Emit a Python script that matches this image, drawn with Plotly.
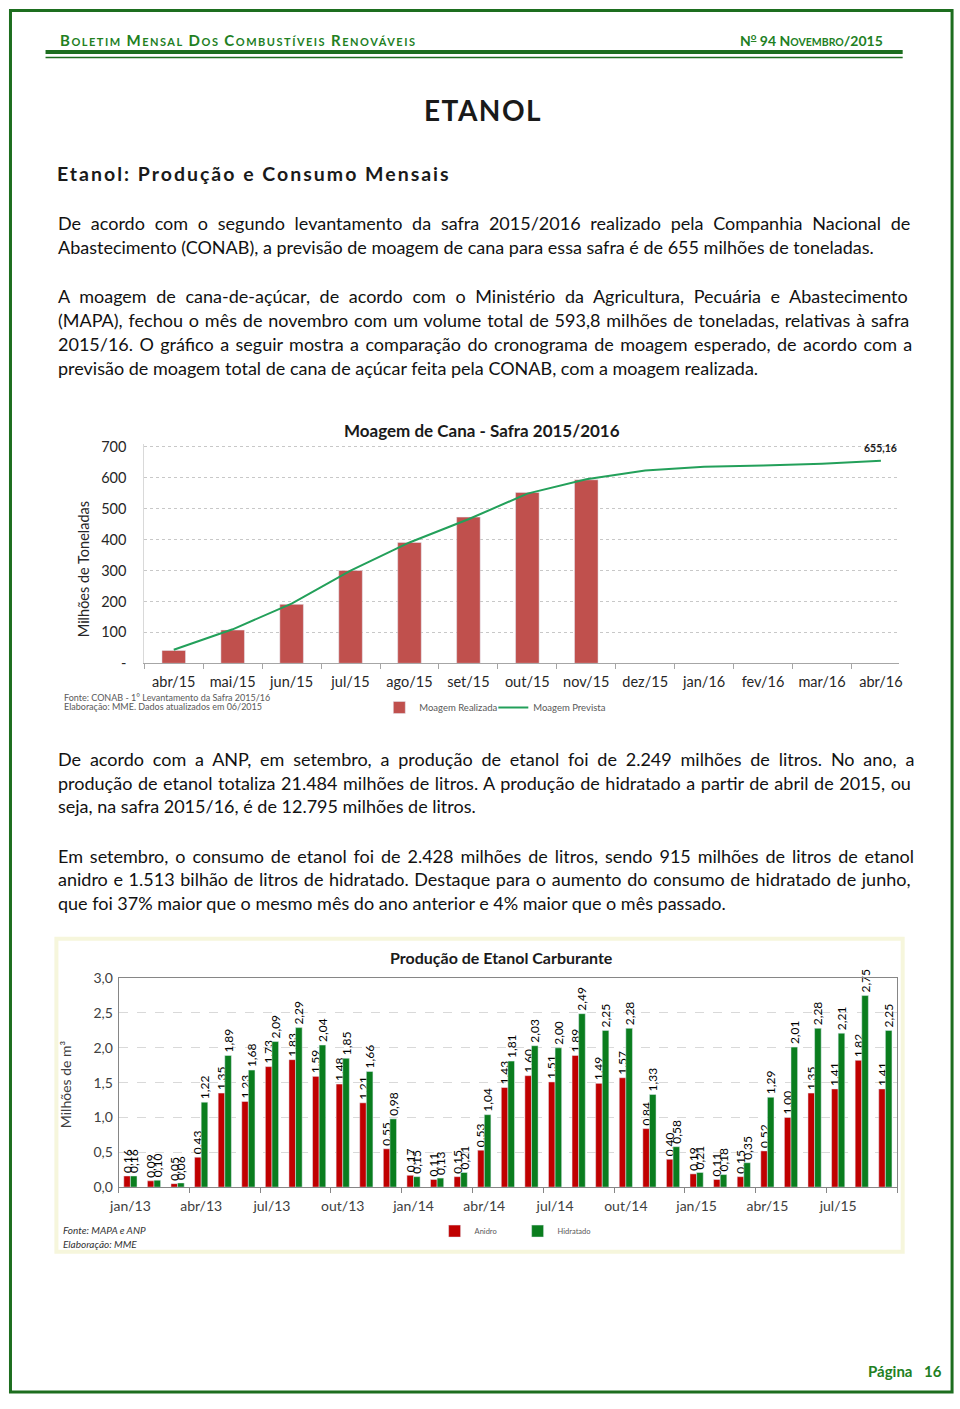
import unicodedata
import plotly.graph_objects as go

W, H = 960, 1409

# ---------------- data: chart 1 (Moagem de Cana) ----------------
moagem_meses = ["abr/15", "mai/15", "jun/15", "jul/15", "ago/15", "set/15", "out/15",
                "nov/15", "dez/15", "jan/16", "fev/16", "mar/16", "abr/16"]
moagem_realizada = [41.6, 107.6, 190.7, 300.4, 391.0, 473.0, 553.0, 593.8]
moagem_prevista = [43.7, 110.0, 193.0, 300.0, 391.0, 466.0, 549.0, 595.6,
                   624.0, 636.0, 640.0, 645.6, 655.16]
y1_ticks = [0, 100, 200, 300, 400, 500, 600, 700]
y1_ticktext = ["-", "100", "200", "300", "400", "500", "600", "700"]

# ---------------- data: chart 2 (Produção de Etanol) ----------------
producao_meses = ["jan/13", "fev/13", "mar/13", "abr/13", "mai/13", "jun/13", "jul/13", "ago/13",
                  "set/13", "out/13", "nov/13", "dez/13", "jan/14", "fev/14", "mar/14", "abr/14",
                  "mai/14", "jun/14", "jul/14", "ago/14", "set/14", "out/14", "nov/14", "dez/14",
                  "jan/15", "fev/15", "mar/15", "abr/15", "mai/15", "jun/15", "jul/15", "ago/15",
                  "set/15"]
anidro = [0.16, 0.09, 0.05, 0.43, 1.35, 1.23, 1.73, 1.83, 1.59, 1.48, 1.21, 0.55,
          0.17, 0.11, 0.15, 0.53, 1.43, 1.60, 1.51, 1.89, 1.49, 1.57, 0.84, 0.40,
          0.19, 0.11, 0.15, 0.52, 1.00, 1.35, 1.41, 1.82, 1.41]
hidratado = [0.16, 0.10, 0.06, 1.22, 1.89, 1.68, 2.09, 2.29, 2.04, 1.85, 1.66, 0.98,
             0.15, 0.13, 0.21, 1.04, 1.81, 2.03, 2.00, 2.49, 2.25, 2.28, 1.33, 0.58,
             0.21, 0.18, 0.35, 1.29, 2.01, 2.28, 2.21, 2.75, 2.25]
y2_ticks = [0, 0.5, 1.0, 1.5, 2.0, 2.5, 3.0]
y2_ticktext = ["0,0", "0,5", "1,0", "1,5", "2,0", "2,5", "3,0"]

# ---------------- text ----------------
paragraphs = [
    (217, [
        "De acordo com o segundo levantamento da safra 2015/2016 realizado pela Companhia Nacional de",
        "Abastecimento (CONAB), a previsão de moagem de cana para essa safra é de 655 milhões de toneladas.",
    ]),
    (291, [
        "A moagem de cana-de-açúcar, de acordo com o Ministério da Agricultura, Pecuária e Abastecimento",
        "(MAPA), fechou o mês de novembro com um volume total de 593,8 milhões de toneladas, relativas à safra",
        "2015/16. O gráfico a seguir mostra a comparação do cronograma de moagem esperado, de acordo com a",
        "previsão de moagem total de cana de açúcar feita pela CONAB, com a moagem realizada.",
    ]),
    (759, [
        "De acordo com a ANP, em setembro, a produção de etanol foi de 2.249 milhões de litros. No ano, a",
        "produção de etanol totaliza 21.484 milhões de litros. A produção de hidratado a partir de abril de 2015, ou",
        "seja, na safra 2015/16, é de 12.795 milhões de litros.",
    ]),
    (857, [
        "Em setembro, o consumo de etanol foi de 2.428 milhões de litros, sendo 915 milhões de litros de etanol",
        "anidro e 1.513 bilhão de litros de hidratado. Destaque para o aumento do consumo de hidratado de junho,",
        "que foi 37% maior que o mesmo mês do ano anterior e 4% maior que o mês passado.",
    ]),
]

# approximate Lato widths (per 1000 em) used only to justify text lines
WT = {" ": 193, "a": 506, "b": 565, "c": 467, "d": 565, "e": 533, "f": 324, "g": 500, "h": 564,
      "i": 240, "j": 240, "k": 516, "l": 240, "m": 840, "n": 564, "o": 565, "p": 557, "q": 565,
      "r": 373, "s": 424, "t": 356, "u": 564, "v": 506, "w": 760, "x": 495, "y": 506, "z": 451,
      "A": 680, "B": 620, "C": 660, "D": 730, "E": 560, "F": 540, "G": 710, "H": 740, "I": 280,
      "J": 380, "K": 640, "L": 500, "M": 880, "N": 740, "O": 780, "P": 590, "Q": 780, "R": 620,
      "S": 520, "T": 580, "U": 710, "V": 680, "W": 1000, "X": 640, "Y": 620, "Z": 600,
      ",": 230, ".": 230, "(": 310, ")": 310, "/": 370, "-": 340, "%": 780, ":": 230}
for d in "0123456789":
    WT[d] = 580

BODY_SIZE = 18
CAL = 1.03
LEFT, RIGHT = 48, 912


def char_w(c):
    if c in WT:
        return WT[c]
    base = unicodedata.normalize("NFD", c)[0]
    return WT.get(base, 550)


def justified(line):
    nsp = line.count(" ")
    nat = sum(char_w(c) for c in line) * BODY_SIZE / 1000 * CAL
    ws = (RIGHT - LEFT - nat) / nsp
    return f'<span style="word-spacing:{ws:.2f}px">{line}</span>'


def px(x):
    return x / W


def py(y):
    return 1 - y / H


def smallcaps(text, big, small):
    out = []
    for w in text.split(" "):
        out.append(f'<span style="font-size:{big}px">{w[0]}</span>'
                   f'<span style="font-size:{small}px">{w[1:].upper()}</span>')
    return " ".join(out)


fig = go.Figure()

# ---------------- chart 1 traces ----------------
fig.add_trace(go.Bar(
    x=moagem_meses[:len(moagem_realizada)], y=moagem_realizada, name="Moagem Realizada",
    marker=dict(color="#c0504d"), width=0.4, xaxis="x", yaxis="y", legend="legend",
))
fig.add_trace(go.Scatter(
    x=moagem_meses, y=moagem_prevista, name="Moagem Prevista", mode="lines",
    line=dict(color="#23a05a", width=2), xaxis="x", yaxis="y", legend="legend",
))

# ---------------- chart 2 traces ----------------
idx = list(range(len(producao_meses)))


def fmt(v):
    return f"{v:.2f}".replace(".", ",")


fig.add_trace(go.Bar(
    x=idx, y=anidro, name="Anidro", marker=dict(color="#c00000"),
    text=[fmt(v) for v in anidro], textposition="outside", textangle=-90,
    constraintext="none", cliponaxis=False,
    outsidetextfont=dict(family="Lato", size=12, color="#000000"),
    xaxis="x2", yaxis="y2", legend="legend2",
))
fig.add_trace(go.Bar(
    x=idx, y=hidratado, name="Hidratado", marker=dict(color="#0a7d1e"),
    text=[fmt(v) for v in hidratado], textposition="outside", textangle=-90,
    constraintext="none", cliponaxis=False,
    outsidetextfont=dict(family="Lato", size=12, color="#000000"),
    xaxis="x2", yaxis="y2", legend="legend2",
))

# ---------------- axes ----------------
y1_px_per = (662.3 - 443.3) / 700.0
y1_top = 710
fig.update_layout(
    xaxis=dict(
        domain=[px(137), px(901.7)], anchor="y", type="category",
        categoryorder="array", categoryarray=moagem_meses,
        tickson="boundaries", ticks="outside", ticklen=5, tickcolor="#a6a6a6",
        showline=True, linecolor="#a6a6a6", linewidth=1, showgrid=False,
        tickfont=dict(family="Lato", size=14.5, color="#262626"), zeroline=False,
        ticklabelstandoff=5,
    ),
    yaxis=dict(
        domain=[py(662.3), py(662.3 - y1_top * y1_px_per)], anchor="x",
        range=[0, y1_top], tickvals=y1_ticks, ticktext=y1_ticktext,
        showgrid=True, gridcolor="#c8c8c8", griddash="dot", gridwidth=1,
        showline=True, linecolor="#d9d9d9", ticks="", ticklabelstandoff=14,
        tickfont=dict(family="Lato", size=14.5, color="#262626"), zeroline=False,
    ),
    xaxis2=dict(
        domain=[px(111), px(899.4)], anchor="y2", range=[-0.5, len(idx) - 0.5],
        tickvals=idx[::3], ticktext=producao_meses[::3], ticks="",
        minor=dict(tickvals=[i - 0.5 for i in range(0, len(idx) + 1, 3)], ticks="outside",
                   ticklen=5, tickcolor="#868686", showgrid=False),
        showline=True, mirror=True, linecolor="#868686", showgrid=False, zeroline=False,
        tickfont=dict(family="Lato", size=14, color="#404040"), ticklabelstandoff=6,
    ),
    yaxis2=dict(
        domain=[py(1192.5), py(981)], anchor="x2", range=[0, 3],
        tickvals=y2_ticks, ticktext=y2_ticktext, showgrid=True, gridcolor="#d9d9d9",
        griddash="dash", showline=True, mirror=True, linecolor="#868686", ticks="",
        ticklabelstandoff=2, zeroline=False,
        tickfont=dict(family="Lato", size=14, color="#404040"),
    ),
    barmode="group", bargap=0.44, bargroupgap=0,
    legend=dict(orientation="h", x=px(375), y=py(707), xanchor="left", yanchor="middle",
                font=dict(family="Lato", size=9.5, color="#595959"), bgcolor="rgba(0,0,0,0)",
                itemwidth=30, tracegroupgap=0, entrywidth=69, entrywidthmode="pixels"),
    legend2=dict(orientation="h", x=px(431), y=py(1237), xanchor="left", yanchor="middle",
                 font=dict(family="Lato", size=7.5, color="#595959"), bgcolor="rgba(0,0,0,0)",
                 itemwidth=30, tracegroupgap=0, entrywidth=38, entrywidthmode="pixels"),
    width=W, height=H, margin=dict(l=0, r=0, t=0, b=0),
    paper_bgcolor="white", plot_bgcolor="rgba(0,0,0,0)",
    font=dict(family="Lato", color="#1a1a1a"),
)

# ---------------- shapes (page decoration) ----------------
GREEN = "#1d6e1f"
shapes = [
    dict(type="rect", xref="paper", yref="paper", x0=px(1.5), x1=px(955), y0=py(1400), y1=py(1.5),
         line=dict(color=GREEN, width=3), fillcolor="rgba(0,0,0,0)", layer="below"),
    dict(type="rect", xref="paper", yref="paper", x0=px(37), x1=px(905), y0=py(45.5), y1=py(41.5),
         line=dict(width=0), fillcolor=GREEN, layer="below"),
    dict(type="line", xref="paper", yref="paper", x0=px(37), x1=px(905), y0=py(49), y1=py(49),
         line=dict(color=GREEN, width=1.5), layer="below"),
    dict(type="rect", xref="paper", yref="paper", x0=px(48), x1=px(905), y0=py(1258), y1=py(941),
         line=dict(color="#f6f6dc", width=4), fillcolor="white", layer="below"),
]
fig.update_layout(shapes=shapes)

# ---------------- annotations ----------------
ann = []


def text(x, y, t, size, color="#1a1a1a", anchor="left", angle=0, family="Lato"):
    ann.append(dict(x=px(x), y=py(y), xref="paper", yref="paper", text=t, showarrow=False,
                    xanchor=anchor, yanchor="middle", textangle=angle,
                    font=dict(family=family, size=size, color=color)))


HG = "#22801f"
text(50, 31, '<b><span style="letter-spacing:1.5px">'
     + smallcaps("Boletim Mensal Dos Combustíveis Renováveis", 15, 11) + '</span></b>', 14, HG)
text(887, 31, '<b>N<sup><u>o</u></sup> 94 <span style="font-size:14px">N</span>'
     '<span style="font-size:10.5px">OVEMBRO</span>/2015</b>', 14, HG, anchor="right")
text(479.5, 102, '<b><span style="letter-spacing:1.5px">ETANOL</span></b>', 28, "#1a1a1a", anchor="center")
text(47, 167, '<b><span style="letter-spacing:2px">Etanol: Produção e Consumo Mensais</span></b>', 19.5, "#1a1a1a")

for y0, lines in paragraphs:
    for i, line in enumerate(lines):
        last = i == len(lines) - 1
        t = line if last else justified(line)
        text(LEFT, y0 + 24 * i, t, BODY_SIZE, "#111111")

# chart 1 texts
text(479, 427, "<b>Moagem de Cana - Safra 2015/2016</b>", 17, "#1a1a1a", anchor="center")
text(75, 567, "Milhões de Toneladas", 14.5, "#262626", anchor="center", angle=-90)
text(54, 697, "Fonte: CONAB - 1° Levantamento da Safra 2015/16", 9, "#595959")
text(54, 706, "Elaboração: MME. Dados atualizados em 06/2015", 9, "#595959")
ann.append(dict(x=moagem_meses[-1], y=moagem_prevista[-1], xref="x", yref="y",
                text="<b>" + fmt(moagem_prevista[-1]) + "</b>", showarrow=False, yshift=13,
                font=dict(family="Lato", size=10.5, color="#1a1a1a")))

# chart 2 texts
text(499, 960, "<b>Produção de Etanol Carburante</b>", 16, "#1a1a1a", anchor="center")
text(58, 1088, "Milhões de m³", 14, "#404040", anchor="center", angle=-90)
text(53, 1236, "<i>Fonte: MAPA e ANP</i>", 10, "#333333")
text(53, 1250, "<i>Elaboração: MME</i>", 10, "#333333")

# footer
text(916, 1379, "<b>Página</b>", 15, HG, anchor="right")
text(947, 1379, "<b>16</b>", 15, HG, anchor="right")

fig.update_layout(annotations=ann)

fig.write_html(
    "out.html",
    config={"displayModeBar": False},
    post_script=("document.documentElement.style.margin='0px';"
                 "document.documentElement.style.overflow='hidden';"
                 "document.body.style.margin='0px';"
                 "document.body.style.overflow='hidden';"),
)
